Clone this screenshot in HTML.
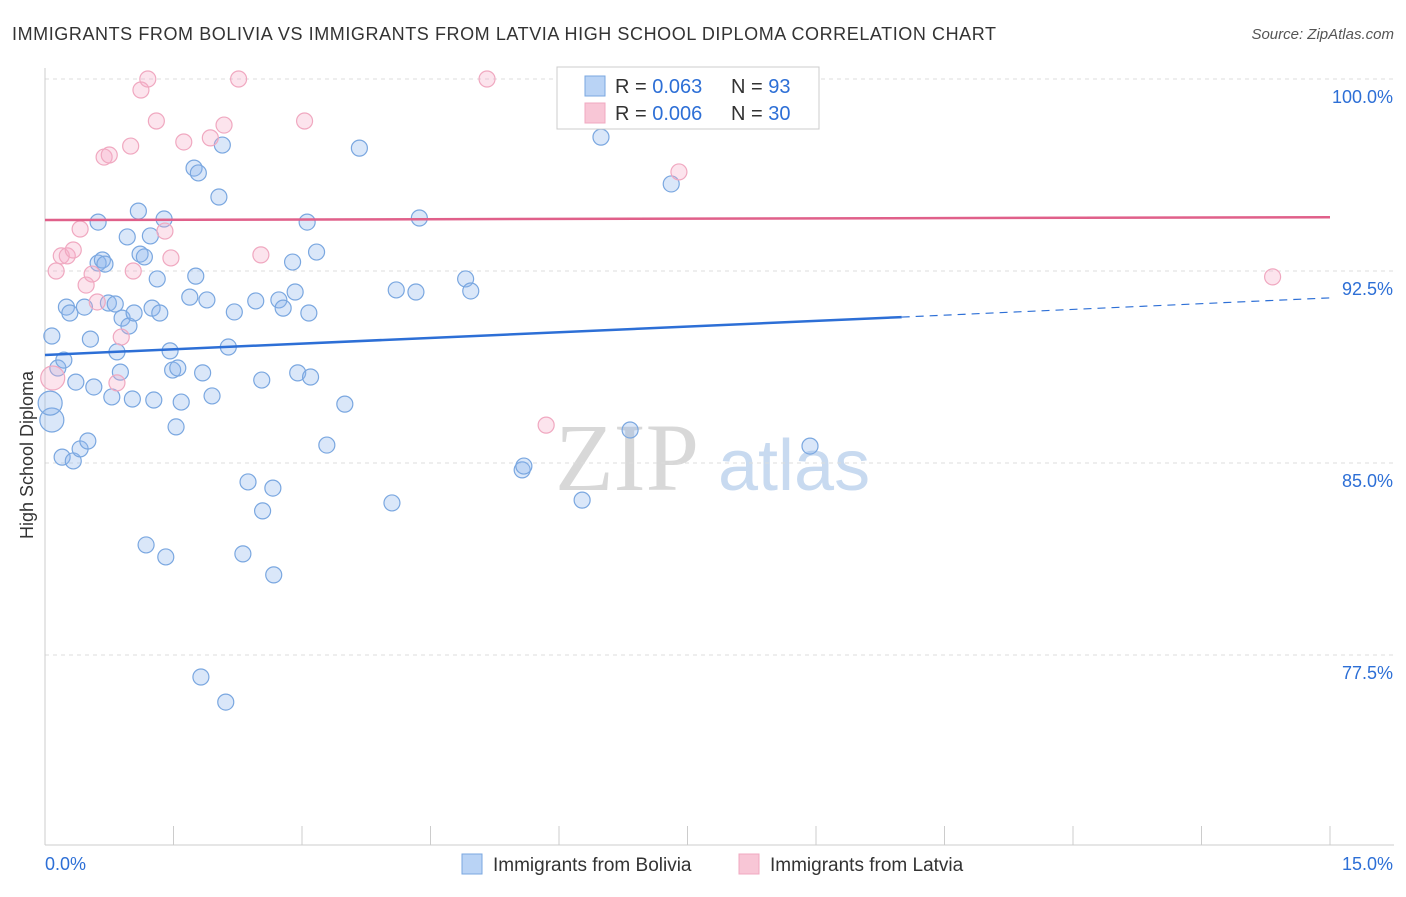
<!DOCTYPE html>
<html><head><meta charset="utf-8"><style>
body{margin:0;background:#fff;font-family:"Liberation Sans",sans-serif;}
svg text{font-family:"Liberation Sans",sans-serif;}
</style></head><body>
<svg id="chart" width="1406" height="892" xmlns="http://www.w3.org/2000/svg">
<text x="12" y="40" font-size="18" fill="#333" textLength="984" lengthAdjust="spacing">IMMIGRANTS FROM BOLIVIA VS IMMIGRANTS FROM LATVIA HIGH SCHOOL DIPLOMA CORRELATION CHART</text>
<text x="1394" y="39" font-size="15" fill="#555" text-anchor="end" font-style="italic">Source: ZipAtlas.com</text>
<text transform="translate(33,455) rotate(-90)" font-size="18" fill="#333" text-anchor="middle">High School Diploma</text>
<g>
<text x="555" y="490" font-size="96" fill="#d8d8d8" style="font-family:'Liberation Serif',serif">ZIP</text>
<text x="718" y="490" font-size="72" fill="#c8daf0">atlas</text>
</g>
<g id="grid"></g><g id="axes"></g><g id="marks"></g><g id="trends"></g>
<g>
<rect x="557" y="67" width="262" height="62" fill="#fff" stroke="#ccc"/>
<rect x="585" y="76" width="20" height="20" fill="#b9d3f5" stroke="#7aa7e0"/>
<rect x="585" y="103" width="20" height="20" fill="#f8c6d6" stroke="#f0a8c0"/>
<text x="615" y="93" font-size="20" fill="#333">R = <tspan fill="#2d6fd6">0.063</tspan></text>
<text x="731" y="93" font-size="20" fill="#333">N = <tspan fill="#2d6fd6">93</tspan></text>
<text x="615" y="120" font-size="20" fill="#333">R = <tspan fill="#2d6fd6">0.006</tspan></text>
<text x="731" y="120" font-size="20" fill="#333">N = <tspan fill="#2d6fd6">30</tspan></text>
</g>
<g>
<rect x="462" y="854" width="20" height="20" fill="#b9d3f5" stroke="#7aa7e0"/>
<text x="493" y="871" font-size="19" fill="#333">Immigrants from Bolivia</text>
<rect x="739" y="854" width="20" height="20" fill="#f8c6d6" stroke="#f0a8c0"/>
<text x="770" y="871" font-size="19" fill="#333">Immigrants from Latvia</text>
</g>
</svg>
<script>
const yTicks=[100,92.5,85,77.5];
const yTickLabels=["100.0%","92.5%","85.0%","77.5%"];
const xTickLabels=["0.0%","15.0%"];
const blueX=[0.08,0.06,0.08,0.15,0.20,0.25,0.29,0.22,0.33,0.36,0.41,0.46,0.50,0.53,0.57,0.62,0.62,0.67,0.70,0.74,0.78,0.82,0.84,0.88,0.90,0.96,0.98,1.02,1.04,1.09,1.11,1.16,1.18,1.23,1.25,1.27,1.31,1.34,1.39,1.41,1.46,1.49,1.53,1.55,1.59,1.69,1.74,1.76,1.79,1.84,1.89,1.95,2.03,2.07,2.14,2.21,2.31,2.37,2.46,2.53,2.54,2.66,2.67,2.73,2.78,2.89,2.92,2.95,3.06,3.08,3.10,3.17,3.29,3.50,3.67,4.05,4.10,4.33,4.37,4.91,4.97,5.57,5.59,6.27,6.49,6.83,7.31,8.93,1.82,2.11];
const blueY=[86.68,87.34,89.96,88.71,85.23,91.09,90.86,89.02,85.08,88.16,85.55,91.09,85.86,89.84,87.97,94.41,92.81,92.93,92.77,91.25,87.58,91.21,89.34,88.55,90.66,93.83,90.35,87.50,90.86,94.84,93.16,93.05,81.80,93.87,91.05,87.46,92.19,90.86,94.53,81.33,89.38,88.63,86.41,88.71,87.38,91.48,96.52,92.30,96.33,88.52,91.37,87.62,95.39,97.42,89.53,90.90,81.45,84.26,91.33,88.24,83.13,84.02,80.63,91.37,91.05,92.85,91.68,88.52,94.41,90.86,88.36,93.24,85.70,87.30,97.30,83.44,91.76,91.68,94.57,92.19,91.72,84.73,84.88,83.55,97.73,86.29,95.90,85.66,76.64,75.66];
const pinkX=[0.09,0.13,0.19,0.26,0.33,0.41,0.48,0.55,0.61,0.69,0.75,0.84,0.89,1.00,1.03,1.12,1.20,1.30,1.40,1.47,1.62,1.93,2.09,2.26,2.52,3.03,5.16,5.85,7.40,14.33];
const pinkY=[88.32,92.50,93.09,93.09,93.32,94.14,91.95,92.38,91.29,96.95,97.03,88.13,89.92,97.38,92.50,99.57,100.0,98.36,94.06,93.01,97.54,97.70,98.20,100.0,93.13,98.36,100.0,86.48,96.37,92.27];
const blueTrendX=[0,10,15];
const blueTrendY=[89.22,90.70,91.45];
const pinkTrendX=[0,15];
const pinkTrendY=[94.49,94.6];
const NS="http://www.w3.org/2000/svg";
const X0=45,X1=1330;
function sx(v){return X0+(X1-X0)*v/15;}
function sy(v){return 79+(100-v)*25.6;}
function mk(t,a,p){const e=document.createElementNS(NS,t);for(const k in a)e.setAttribute(k,a[k]);p.appendChild(e);return e;}
const grid=document.getElementById('grid'),axes=document.getElementById('axes'),marks=document.getElementById('marks'),trends=document.getElementById('trends');
yTicks.forEach((t,i)=>{
 const l=mk('line',{x1:X0,x2:1394,y1:sy(t),y2:sy(t),stroke:'#ddd','stroke-dasharray':'4,4'},grid);
 
 
 const tx=mk('text',{x:1393,y:sy(t)+24,'font-size':18,fill:'#2d6fd6','text-anchor':'end'},axes);
 tx.textContent=yTickLabels[i];
 
 
});
const ax=mk('line',{x1:X0,x2:X0,y1:68,y2:845,stroke:'#ccc'},axes);


const bx=mk('line',{x1:X0,x2:1394,y1:845,y2:845,stroke:'#ccc'},axes);


for(let i=1;i<=10;i++){
 const tk=mk('line',{x1:sx(i*1.5),x2:sx(i*1.5),y1:826,y2:845,stroke:'#ccc'},axes);
 
 
}
const xl0=mk('text',{x:45,y:870,'font-size':18,fill:'#2d6fd6'},axes);xl0.textContent=xTickLabels[0];


const xl1=mk('text',{x:1393,y:870,'font-size':18,fill:'#2d6fd6','text-anchor':'end'},axes);xl1.textContent=xTickLabels[1];


function pts(xs,ys,fill,stroke,name,big){
 xs.forEach((x,i)=>{
  const r=(big.includes(i))?12:8;
  const c=mk('circle',{cx:sx(x),cy:sy(ys[i]),r:r,fill:fill,stroke:stroke,'stroke-width':1.2},marks);
  
  
 });
}
pts(blueX,blueY,'rgba(140,180,235,0.32)','#7aa7e0','bolivia-point',[0,1]);
pts(pinkX,pinkY,'rgba(245,170,198,0.32)','#f0a8c0','latvia-point',[0]);
const b1=mk('line',{x1:sx(blueTrendX[0]),y1:sy(blueTrendY[0]),x2:sx(blueTrendX[1]),y2:sy(blueTrendY[1]),stroke:'#2d6fd6','stroke-width':2.5},trends);


const b2=mk('line',{x1:sx(blueTrendX[1]),y1:sy(blueTrendY[1]),x2:sx(blueTrendX[2]),y2:sy(blueTrendY[2]),stroke:'#2d6fd6','stroke-width':1.2,'stroke-dasharray':'8,6'},trends);


const p1=mk('line',{x1:sx(pinkTrendX[0]),y1:sy(pinkTrendY[0]),x2:sx(pinkTrendX[1]),y2:sy(pinkTrendY[1]),stroke:'#e0608a','stroke-width':2.5},trends);


</script>
</body></html>
